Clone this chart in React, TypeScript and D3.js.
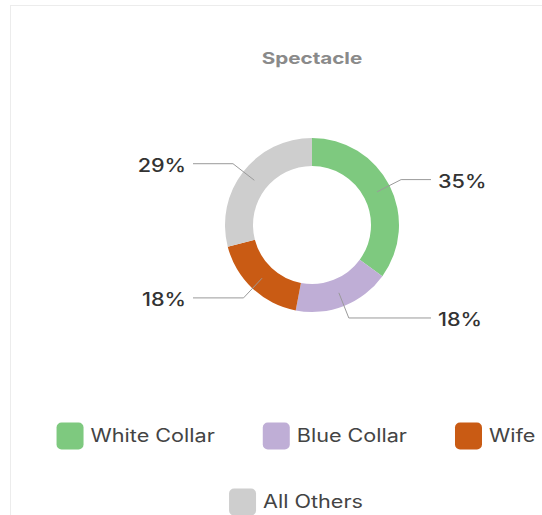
import * as d3 from "d3";
import { useEffect, useRef } from "react";

const categories = ["White Collar", "Blue Collar", "Wife", "All Others"];
const values = [35, 18, 18, 29];
const colors = ["#7ec97f", "#bfaed6", "#c95b14", "#cecece"];
const title = "Spectacle";

const FONT = "Inter, 'DejaVu Sans', sans-serif";
const STRETCH = 1.2;

function App() {
  const svgRef = useRef<SVGSVGElement>(null);

  useEffect(() => {
    const svg = d3.select(svgRef.current);
    svg.selectAll("*").remove();

    const cx = 312;
    const cy = 225;
    const outerR = 87;
    const innerR = 59;

    // card (runs past the right and bottom edge)
    svg
      .append("rect")
      .attr("x", 10.5)
      .attr("y", 5.5)
      .attr("width", 640)
      .attr("height", 620)
      .attr("fill", "#fff")
      .attr("stroke", "#ececec");

    svg
      .append("text")
      .attr("transform", `translate(${cx},64) scale(1.25,1)`)
      .attr("text-anchor", "middle")
      .attr("font-family", FONT)
      .attr("font-size", 16.5)
      .attr("font-weight", 700)
      .attr("fill", "#8a8a8a")
      .text(title);

    const pie = d3
      .pie<number>()
      .sort(null)
      .value((d) => d);
    const arcs = pie(values);
    const arc = d3.arc<d3.PieArcDatum<number>>().innerRadius(innerR).outerRadius(outerR);
    const total = d3.sum(values);

    const g = svg.append("g").attr("transform", `translate(${cx},${cy})`);
    g.selectAll("path")
      .data(arcs)
      .join("path")
      .attr("d", arc)
      .attr("fill", (_, i) => colors[i]);

    // label lines + percentages
    const lineR = (innerR + outerR) / 2;
    const elbowR = 100;
    const endX = 119;
    arcs.forEach((a) => {
      const mid = (a.startAngle + a.endAngle) / 2;
      const side = Math.sin(mid) > 0 ? 1 : -1;
      const p1: [number, number] = [Math.sin(mid) * lineR, -Math.cos(mid) * lineR];
      const p2: [number, number] = [Math.sin(mid) * elbowR, -Math.cos(mid) * elbowR];
      const p3: [number, number] = [side * endX, p2[1]];
      g.append("polyline")
        .attr("points", [p1, p2, p3].map((p) => p.join(",")).join(" "))
        .attr("fill", "none")
        .attr("stroke", "#9a9a9a")
        .attr("stroke-width", 1);
      g.append("text")
        .attr("transform", `translate(${p3[0] + side * 7},${p3[1] + 2}) scale(${STRETCH},1)`)
        .attr("text-anchor", side > 0 ? "start" : "end")
        .attr("dominant-baseline", "central")
        .attr("font-family", FONT)
        .attr("font-size", 18)
        .attr("font-weight", 500)
        .attr("fill", "#333")
        .text(`${Math.round((a.data / total) * 100)}%`);
    });

    // legend, wrapped into centred rows
    const box = 27;
    const pad = 7;
    const gap = 48;
    const maxW = 520;
    const legendCx = 296;
    const rowY = [436, 502];

    const legend = svg.append("g");
    const items = categories.map((name, i) => {
      const item = legend.append("g");
      item
        .append("rect")
        .attr("width", box)
        .attr("height", box)
        .attr("y", -box / 2)
        .attr("rx", 5)
        .attr("fill", colors[i]);
      const t = item
        .append("text")
        .attr("transform", `translate(${box + pad},0) scale(${STRETCH},1)`)
        .attr("dominant-baseline", "central")
        .attr("font-family", FONT)
        .attr("font-size", 18)
        .attr("font-weight", 400)
        .attr("fill", "#444")
        .text(name);
      const tw = (t.node() as SVGTextElement).getComputedTextLength() * STRETCH;
      return { item, w: box + pad + tw };
    });

    const rows: { item: any; w: number }[][] = [[]];
    let used = 0;
    items.forEach((it) => {
      const cur = rows[rows.length - 1];
      const need = cur.length ? used + gap + it.w : it.w;
      if (cur.length && need > maxW) {
        rows.push([it]);
        used = it.w;
      } else {
        cur.push(it);
        used = need;
      }
    });

    rows.forEach((row, r) => {
      const rowW = d3.sum(row, (d) => d.w) + gap * (row.length - 1);
      let x = legendCx - rowW / 2;
      row.forEach((it) => {
        it.item.attr("transform", `translate(${x},${rowY[r]})`);
        x += it.w + gap;
      });
    });
  }, []);

  return (
    <div style={{ position: "absolute", left: 0, top: 0, width: 542, height: 515, overflow: "hidden", background: "#fff" }}>
      <svg ref={svgRef} width={542} height={515} />
    </div>
  );
}

export default App;
